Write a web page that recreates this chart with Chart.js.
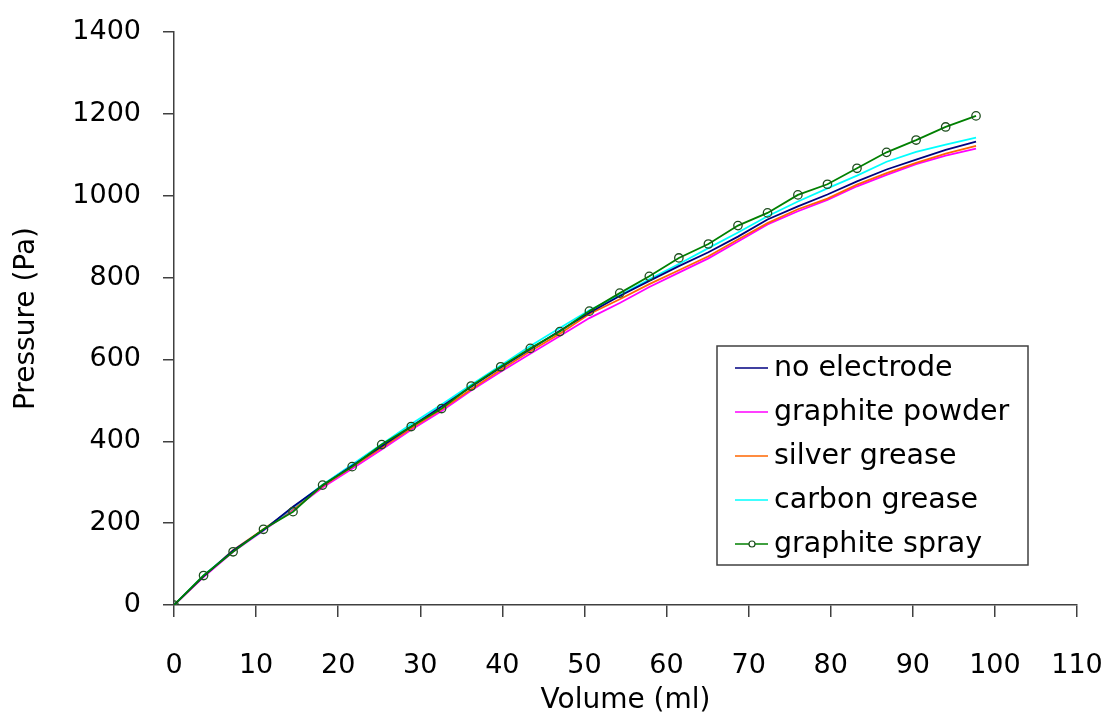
<!DOCTYPE html>
<html>
<head>
<meta charset="utf-8">
<script src="https://cdn.jsdelivr.net/npm/chart.js@4.4.0/dist/chart.umd.min.js"></script>
<style>
html,body{margin:0;padding:0;background:#fff;}
#wrap{width:1112px;height:719px;position:relative;}
</style>
</head>
<body>
<div id="wrap"><canvas id="c" width="1112" height="719"></canvas></div>
<script>
// ---- data ----
const volumes = [0,3.6,7.2,10.9,14.5,18.1,21.7,25.3,28.9,32.6,36.2,39.8,43.4,47.0,50.6,54.3,57.9,61.5,65.1,68.7,72.3,76.0,79.6,83.2,86.8,90.4,94.0,97.7];
const noElectrode    = [0,70,133,183,240,292,340,388,436,485,533,580,625,670,714,755,792,828,862,900,942,974,1003,1035,1064,1088,1112,1132];
const graphitePowder = [0,68,130,182,233,287,333,380,428,474,524,570,614,657,701,738,777,812,847,888,930,962,990,1023,1051,1077,1098,1115];
const silverGrease   = [0,70,134,185,236,290,337,384,432,478,527,575,620,663,711,747,784,818,852,893,933,967,993,1027,1055,1080,1103,1122];
const carbonGrease   = [0,72,132,183,238,294,343,393,442,490,538,585,633,677,720,757,796,833,872,910,950,986,1018,1049,1083,1107,1125,1142];
const graphiteSpray  = [0,72,130,185,228,293,338,392,436,480,535,582,627,668,718,762,803,848,882,927,958,1002,1028,1067,1106,1136,1168,1195];
const seriesNames = ['no electrode','graphite powder','silver grease','carbon grease','graphite spray'];
const xTickStep = 10, xMin = 0, xMax = 110;
const yTickStep = 200, yMin = 0, yMax = 1400;

const FONT = 'DejaVu Sans';
const AXIS = '#404040';

function pts(ys){ return ys.map((y,i)=>({x:volumes[i], y:y})); }

const legendPlugin = {
  id: 'boxLegend',
  afterDatasetsDraw(chart){
    const ctx = chart.ctx;
    const bx = 717, by = 346, bw = 311, bh = 219;
    ctx.save();
    ctx.fillStyle = '#fff';
    ctx.fillRect(bx, by, bw, bh);
    ctx.strokeStyle = AXIS;
    ctx.lineWidth = 1.5;
    ctx.strokeRect(bx, by, bw, bh);
    ctx.font = '28.5px "' + FONT + '"';
    ctx.textBaseline = 'middle';
    ctx.fillStyle = '#000';
    chart.data.datasets.forEach((ds, i) => {
      const y = by + 22 + i * 44;
      ctx.strokeStyle = ds.borderColor;
      ctx.lineWidth = 1.5;
      ctx.beginPath(); ctx.moveTo(bx + 18, y); ctx.lineTo(bx + 51, y); ctx.stroke();
      if (ds.pointRadius > 0) {
        ctx.strokeStyle = ds.pointBorderColor;
        ctx.lineWidth = 1.2;
        ctx.fillStyle = '#fff';
        ctx.beginPath(); ctx.arc(bx + 35, y, 3, 0, Math.PI * 2); ctx.fill(); ctx.stroke();
        ctx.fillStyle = '#000';
      }
      ctx.fillText(ds.label, bx + 57, y + 1);
    });
    ctx.restore();
  }
};

new Chart(document.getElementById('c'), {
  type: 'line',
  data: {
    datasets: [
      {label: seriesNames[0], data: pts(noElectrode),    borderColor: '#000080', borderWidth: 1.8, pointRadius: 0, order: 2},
      {label: seriesNames[1], data: pts(graphitePowder), borderColor: '#FF00FF', borderWidth: 1.8, pointRadius: 0, order: 5},
      {label: seriesNames[2], data: pts(silverGrease),   borderColor: '#FF6600', borderWidth: 1.8, pointRadius: 0, order: 4},
      {label: seriesNames[3], data: pts(carbonGrease),   borderColor: '#00FFFF', borderWidth: 1.8, pointRadius: 0, order: 3},
      {label: seriesNames[4], data: pts(graphiteSpray),  borderColor: '#008000', borderWidth: 1.8, pointRadius: 4.2,
        pointBorderColor: '#1E4D1E', pointBackgroundColor: 'rgba(0,0,0,0)', pointBorderWidth: 1.3, order: 1}
    ]
  },
  options: {
    responsive: false,
    animation: false,
    layout: {padding: {top: 32, right: 35, bottom: 0, left: 0}},
    plugins: {legend: {display: false}, tooltip: {enabled: false}},
    elements: {line: {tension: 0}},
    scales: {
      x: {
        type: 'linear', min: xMin, max: xMax,
        ticks: {stepSize: xTickStep, color: '#000', font: {family: FONT, size: 27}, padding: 33, maxRotation: 0,
          callback: v => String(v)},
        grid: {drawOnChartArea: false, drawTicks: true, tickLength: 12, color: AXIS, lineWidth: 1.5},
        border: {color: AXIS, width: 1.5},
        title: {display: true, text: 'Volume (ml)', color: '#000', font: {family: FONT, size: 28}, padding: {top: 0, bottom: 1}},
        afterFit(scale){ scale.height = 114; scale.paddingLeft = 0; scale.paddingRight = 0; }
      },
      y: {
        min: yMin, max: yMax,
        ticks: {stepSize: yTickStep, color: '#000', font: {family: FONT, size: 27}, padding: 22,
          callback: v => String(v)},
        grid: {drawOnChartArea: false, drawTicks: true, tickLength: 11, color: AXIS, lineWidth: 1.5},
        border: {color: AXIS, width: 1.5},
        title: {display: true, text: 'Pressure (Pa)', color: '#000', font: {family: FONT, size: 28}, padding: {top: 10, bottom: 0}},
        afterFit(scale){ scale.width = 174; scale.paddingTop = 0; scale.paddingBottom = 0; }
      }
    }
  },
  plugins: [legendPlugin]
});
</script>
</body>
</html>
